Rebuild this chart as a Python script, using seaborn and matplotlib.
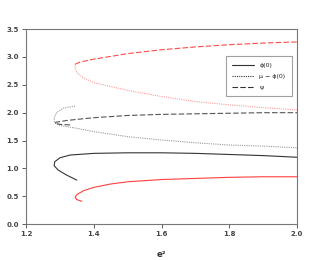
import numpy as np
import pandas as pd
import matplotlib
matplotlib.use("Agg")
import matplotlib.pyplot as plt
import seaborn as sns

# curves traced through the fold (x = e^2)
phi_x = [1.35, 1.32, 1.295, 1.283, 1.285, 1.30, 1.33, 1.40, 1.50, 1.60, 1.70, 1.80, 1.90, 2.00]
phi_y = [0.79, 0.88, 0.97, 1.05, 1.12, 1.19, 1.24, 1.27, 1.28, 1.28, 1.27, 1.25, 1.23, 1.20]

mu_x = [1.345, 1.31, 1.29, 1.283, 1.285, 1.30, 1.35, 1.40, 1.50, 1.60, 1.70, 1.80, 1.90, 2.00]
mu_y = [2.12, 2.08, 2.00, 1.90, 1.82, 1.77, 1.72, 1.66, 1.57, 1.51, 1.46, 1.42, 1.40, 1.37]

psi_x = [1.33, 1.30, 1.285, 1.29, 1.32, 1.35, 1.40, 1.50, 1.60, 1.70, 1.80, 1.90, 2.00]
psi_y = [1.78, 1.79, 1.81, 1.83, 1.86, 1.88, 1.91, 1.95, 1.97, 1.98, 1.99, 2.00, 2.00]

# red branches
phi2_x = [1.365, 1.35, 1.345, 1.35, 1.37, 1.40, 1.45, 1.50, 1.60, 1.70, 1.80, 1.90, 2.00]
phi2_y = [0.41, 0.44, 0.48, 0.53, 0.60, 0.66, 0.72, 0.76, 0.80, 0.82, 0.84, 0.85, 0.85]

mu2_x = [1.345, 1.345, 1.35, 1.37, 1.40, 1.50, 1.60, 1.70, 1.80, 1.90, 2.00]
mu2_y = [2.87, 2.80, 2.72, 2.62, 2.54, 2.40, 2.29, 2.20, 2.14, 2.09, 2.05]

psi2_x = [1.345, 1.36, 1.40, 1.50, 1.60, 1.70, 1.80, 1.90, 2.00]
psi2_y = [2.87, 2.91, 2.96, 3.06, 3.13, 3.18, 3.22, 3.25, 3.27]

sns.set_style("white")
plt.rcParams['font.family'] = ['DejaVu Sans']

fig = plt.figure(figsize=(3.13, 2.6), dpi=100)
ax = fig.add_axes([0.083, 0.138, 0.866, 0.75])

def draw(x, y, color, ls, lw, label=None):
    sns.lineplot(x=x, y=y, sort=False, estimator=None, color=color,
                 linestyle=ls, linewidth=lw, ax=ax, label=label)

draw(phi_x, phi_y, '#333333', '-', 0.8, 'ϕ(0)')
draw(mu_x, mu_y, '#999999', (0, (1, 1)), 0.8, 'μ − ϕ(0)')
draw(psi_x, psi_y, '#555555', (0, (5, 2)), 0.8, 'ψ')
draw(phi2_x, phi2_y, '#ff4040', '-', 0.8)
draw(mu2_x, mu2_y, '#ff9a9a', (0, (1, 1)), 0.8)
draw(psi2_x, psi2_y, '#ff4a4a', (0, (5, 2)), 0.8)

ax.set_xlim(1.2, 2.0)
ax.set_ylim(0, 3.5)
ax.set_xticks([1.2, 1.4, 1.6, 1.8, 2.0])
ax.set_yticks([0, 0.5, 1.0, 1.5, 2.0, 2.5, 3.0, 3.5])
ax.set_xticklabels(['1.2', '1.4', '1.6', '1.8', '2.0'], fontweight='bold')
ax.set_yticklabels(['0.0', '0.5', '1.0', '1.5', '2.0', '2.5', '3.0', '3.5'], fontweight='bold')
ax.tick_params(axis='both', labelsize=5, length=3, width=0.6, direction='out',
               colors='#444444', pad=2)
ax.tick_params(left=True, bottom=True)
for s in ax.spines.values():
    s.set_color('#777777')
    s.set_linewidth(0.8)
ax.set_xlabel('e²', fontsize=6, fontweight='bold', color='#333333', labelpad=9)
ax.set_ylabel('')

leg = ax.legend(loc='upper left', bbox_to_anchor=(0.727, 0.877), fontsize=4.5,
                frameon=True, fancybox=False, edgecolor='#888888',
                handlelength=3.5, borderpad=1.0, labelspacing=0.9)
leg.get_frame().set_linewidth(0.8)
for line in leg.get_lines():
    line.set_color('#333333')

fig.savefig('out.png', dpi=100)
